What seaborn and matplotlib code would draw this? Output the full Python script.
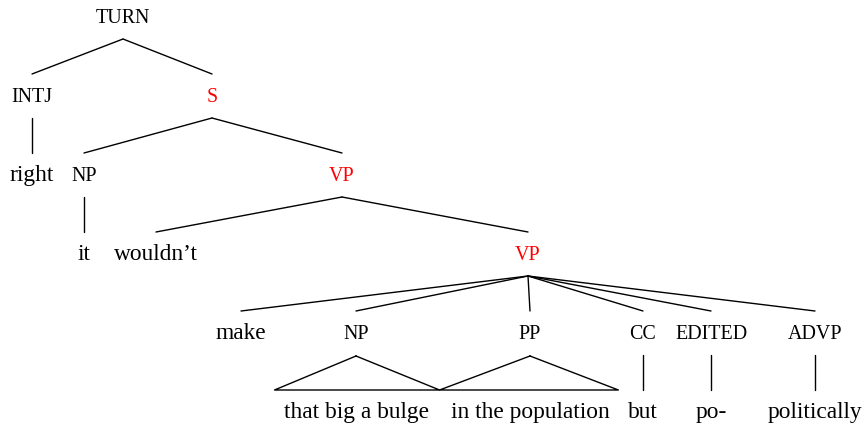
import numpy as np
import pandas as pd
import matplotlib
matplotlib.use("Agg")
import matplotlib.pyplot as plt
import seaborn as sns

# drzewo rozbioru: etykiety, rodzice, poziomy, pozycje x
labels = ["TURN", "INTJ", "S", "right", "NP", "VP", "it", "wouldn\u2019t", "VP",
          "make", "NP", "PP", "CC", "EDITED", "ADVP",
          "that big a bulge", "in the population", "but", "po-", "politically"]
parents = [-1, 0, 0, 1, 2, 2, 4, 5, 5, 8, 8, 8, 8, 8, 8, 10, 11, 12, 13, 14]
levels = [0, 1, 1, 2, 2, 2, 3, 3, 3, 4, 4, 4, 4, 4, 4, 5, 5, 5, 5, 5]
node_x = [123, 32, 212, 32, 84, 342, 84, 156, 528,
          241, 356, 530, 643, 711, 815, 356, 530, 643, 711, 815]
is_word = [False, False, False, True, False, False, True, True, False,
           True, False, False, False, False, False, True, True, True, True, True]
highlight = [False, False, True, False, False, True, False, False, True,
             False, False, False, False, False, False, False, False, False, False, False]
roofed = [15, 16]  # liscie pod "daszkiem" (trojkatem)

base0, step = 23, 79
def baseline(lv):
    return base0 + step * lv

sns.set_style("white")
plt.rcParams['font.family'] = ['Liberation Serif', 'DejaVu Serif']

fig = plt.figure(figsize=(8.64, 4.28), dpi=100)
ax = fig.add_axes([0, 0, 1, 1])
ax.set_xlim(0, 864)
ax.set_ylim(428, 0)

texts = []
for i, lab in enumerate(labels):
    t = ax.text(node_x[i], baseline(levels[i]), lab,
                ha='center', va='baseline',
                fontsize=16.8 if is_word[i] else 14.4,
                color='#ff0000' if highlight[i] else 'black')
    texts.append(t)

fig.canvas.draw()
renderer = fig.canvas.get_renderer()
inv = ax.transData.inverted()

# zakres daszkow: szerokosc tekstu + margines, sasiednie daszki stykaja sie
roof_ext = {}
for i in roofed:
    bb = texts[i].get_window_extent(renderer)
    x0 = inv.transform((bb.x0, bb.y0))[0]
    x1 = inv.transform((bb.x1, bb.y0))[0]
    roof_ext[i] = [x0, x1]
order = sorted(roofed, key=lambda i: roof_ext[i][0])
text_ext = {i: list(roof_ext[i]) for i in roofed}
for i in roofed:
    roof_ext[i] = [roof_ext[i][0] - 9, roof_ext[i][1] + 9]
for a, b in zip(order[:-1], order[1:]):
    gap = text_ext[b][0] - text_ext[a][1]
    if gap < 40:
        mid = (text_ext[a][1] + text_ext[b][0]) / 2
        roof_ext[a][1] = mid
        roof_ext[b][0] = mid

# krawedzie drzewa
rows = []
eid = 0
for i, p in enumerate(parents):
    if p < 0:
        continue
    top = baseline(levels[p]) + 16
    bottom = baseline(levels[i]) - 28
    if i in roofed:
        x0, x1 = roof_ext[i]
        pts = [(node_x[p], top + 1), (x0, bottom), (x1, bottom), (node_x[p], top + 1)]
    else:
        pts = [(node_x[p], top), (node_x[i], bottom)]
    for k, (x, y) in enumerate(pts):
        rows.append({'x': x, 'y': y, 'edge': eid, 'order': k})
    eid += 1

edges = pd.DataFrame(rows)
sns.lineplot(data=edges, x='x', y='y', units='edge', estimator=None,
             sort=False, color='black', linewidth=1.0, ax=ax)

ax.set_xlim(0, 864)
ax.set_ylim(428, 0)
ax.axis('off')

fig.savefig("out.png", dpi=100)
